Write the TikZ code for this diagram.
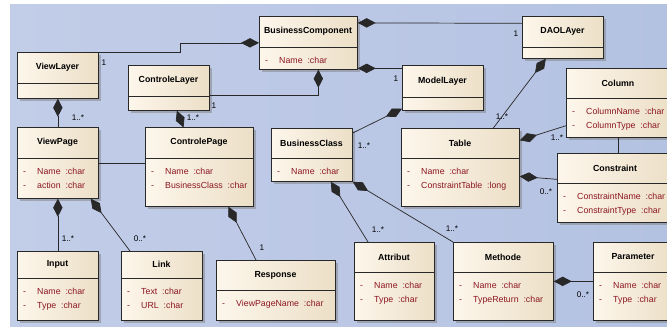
\documentclass[tikz,border=0pt]{standalone}
\usepackage{fontspec}
\setmainfont{Liberation Sans}
\usepackage{tikz}
\usetikzlibrary{arrows.meta,shapes,positioning,shadows,calc}
\usepackage{xcolor}
\definecolor{umlbgleft}{RGB}{194,205,232}
\definecolor{umlbgright}{RGB}{180,194,226}
\definecolor{umlboxlight}{RGB}{253,246,235}
\definecolor{umlboxdark}{RGB}{236,223,199}
\definecolor{umlattr}{RGB}{140,22,32}
\definecolor{umlline}{RGB}{40,40,40}
\tikzstyle{classbox} = [rectangle, draw=umlline, line width=0.6pt, left color=umlboxlight, right color=umlboxdark, inner sep=0pt, drop shadow={shadow xshift=0.7mm, shadow yshift=-0.7mm, fill=black!50, opacity=0.5}]
\tikzstyle{classname} = [inner sep=0pt, font=\fontsize{7.5}{9}\selectfont\bfseries]
\tikzstyle{attrlist} = [inner sep=0pt, anchor=base west, text=umlattr, font=\fontsize{7.5}{12}\selectfont]
\tikzstyle{mult} = [inner sep=0pt, font=\fontsize{7}{8}\selectfont]
\tikzstyle{composition} = [draw=umlline, line width=0.6pt, arrows={Diamond[length=5.4mm, width=2.8mm]-}]
\tikzstyle{assoc} = [draw=umlline, line width=0.6pt]

% box: name, x, y, width, height, header height, title
\newcommand{\umlclass}[7]{%
  \node[classbox, anchor=north west, minimum width=#4*0.3mm, minimum height=#5*0.3mm] (#1) at (#2,#3) {};
  \node[classname] (#1-title) at ($(#1.north west)+(#4/2,#6/2)$) {#7};
  \draw[umlline, line width=0.6pt] ($(#1.north west)+(0,#6)$) -- ($(#1.north east)+(0,#6)$);
}
% attributes under the header
\newcommand{\umlattrs}[3]{%
  \node[attrlist] (#1-attrs) at ($(#1.north west)+(6,#2+16)$) {\begin{tabular}[t]{@{}p{4.2mm}@{}l@{}}#3\end{tabular}};
}

\begin{document}
\begin{tikzpicture}[x=0.3mm, y=-0.3mm]
\useasboundingbox (0,0) rectangle (667,329);
\clip (0,0) rectangle (667,329);
\fill[white] (0,0) rectangle (667,329);
\shade[left color=umlbgleft, right color=umlbgright] (10,4) rectangle (667,326);

% layers
\umlclass{viewlayer}{17}{52}{81}{46}{31}{ViewLayer}
\umlclass{bcomp}{259}{16}{98}{53}{31}{BusinessComponent}
\umlattrs{bcomp}{31}{- & Name\ \ :char}
\umlclass{ctrllayer}{128}{65}{81}{45}{31}{ControleLayer}
\umlclass{dao}{522}{16}{81}{42}{31}{DAOLAyer}
\umlclass{model}{402}{65}{81}{45}{32}{ModelLayer}

% middle row
\umlclass{viewpage}{17}{127}{81}{71}{31}{ViewPage}
\umlattrs{viewpage}{31}{- & Name\ \ :char\\ - & action\ \ :char}
\umlclass{ctrlpage}{145}{127}{108}{79}{31}{ControlePage}
\umlattrs{ctrlpage}{31}{- & Name\ \ :char\\ - & BusinessClass\ \ :char}
\umlclass{bclass}{271}{128}{81}{53}{30}{BusinessClass}
\umlattrs{bclass}{30}{- & Name\ \ :char}
\umlclass{table}{401}{128}{118}{78}{30}{Table}
\umlattrs{table}{30}{- & Name\ \ :char\\ - & ConstraintTable\ \ :long}
\umlclass{column}{566}{68}{104}{69}{30}{Column}
\umlattrs{column}{30}{- & ColumnName\ \ :char\\ - & ColumnType\ \ :char}
\umlclass{constraint}{557}{153}{116}{69}{30}{Constraint}
\umlattrs{constraint}{30}{- & ConstraintName\ \ :char\\ - & ConstraintType\ \ :char}

% bottom row
\umlclass{input}{17}{251}{81}{69}{27}{Input}
\umlattrs{input}{27}{- & Name\ \ :char\\ - & Type\ \ :char}
\umlclass{link}{121}{251}{81}{69}{27}{Link}
\umlattrs{link}{27}{- & Text\ \ :char\\ - & URL\ \ :char}
\umlclass{response}{216}{260}{119}{60}{30}{Response}
\umlattrs{response}{30}{- & ViewPageName\ \ :char}
\umlclass{attrib}{354}{242}{80}{78}{30}{Attribut}
\umlattrs{attrib}{30}{- & Name\ \ :char\\ - & Type\ \ :char}
\umlclass{methode}{453}{242}{100}{78}{30}{Methode}
\umlattrs{methode}{30}{- & Name\ \ :char\\ - & TypeReturn\ \ :char}
\umlclass{param}{593}{242}{80}{78}{30}{Parameter}
\umlattrs{param}{30}{- & Name\ \ :char\\ - & Type\ \ :char}

% compositions
\draw[composition] (bcomp.west) -- ++(-79,0) |- (viewlayer.north east);
\draw[composition] ([shift={(10,0)}]bcomp.south) |- ([shift={(0,7.5)}]ctrllayer.east);
\draw[composition] ([shift={(0,-20)}]bcomp.east) -- ([shift={(0,-14)}]dao.west);
\draw[composition] ([shift={(0,25.5)}]bcomp.east) -- ([shift={(0,-19.5)}]model.west);
\draw[composition] (viewlayer.south) -- (viewpage.north);
\draw[composition] ([shift={(8,0)}]ctrllayer.south) -- ([shift={(-16,0)}]ctrlpage.north);
\draw[assoc] (viewpage.east) -- (viewpage.east -| ctrlpage.west);
\draw[composition] (viewpage.south) -- (input.north);
\draw[composition] ([shift={(-8,0)}]viewpage.south east) -- ([shift={(9,0)}]link.north west);
\draw[composition] ([shift={(29,0)}]ctrlpage.south) -- ([shift={(40,0)}]response.north west);
\draw[composition] ([shift={(0,-2)}]model.south west) -- ([shift={(0,5)}]bclass.north east);
\draw[composition] ([shift={(-17,0)}]dao.south) -- ([shift={(33,0)}]table.north);
\draw[composition] ([shift={(0,-27)}]table.east) -- ([shift={(0,-12)}]column.south west);
\draw[composition] ([shift={(0,9)}]table.east) -- ([shift={(0,-8.5)}]constraint.west);
\draw[assoc] (column.south) -- (column.south |- constraint.north);
\draw[composition] ([shift={(19,0)}]bclass.south) -- ([shift={(14,0)}]attrib.north west);
\draw[composition] (bclass.south east) -- (methode.north west);
\draw[composition] (methode.east) -- (methode.east -| param.west);

% multiplicities
\node[mult] (m-vl) at (104,63) {1};
\node[mult] (m-cl) at (214,106) {1};
\node[mult] (m-dao) at (516,34) {1};
\node[mult] (m-ml) at (396,79) {1};
\node[mult] (m-vp) at (78,118) {1..*};
\node[mult] (m-cp) at (193,118) {1..*};
\node[mult] (m-in) at (68,239) {1..*};
\node[mult] (m-ln) at (140,239) {0..*};
\node[mult] (m-rs) at (262,248) {1};
\node[mult] (m-bc) at (364,146) {1..*};
\node[mult] (m-tb) at (502,117) {1..*};
\node[mult] (m-co) at (557,138) {1..*};
\node[mult] (m-cs) at (546,192) {0..*};
\node[mult] (m-at) at (378,230) {1..*};
\node[mult] (m-me) at (452,229) {1..*};
\node[mult] (m-pa) at (583,295) {0..*};
\end{tikzpicture}
\end{document}
